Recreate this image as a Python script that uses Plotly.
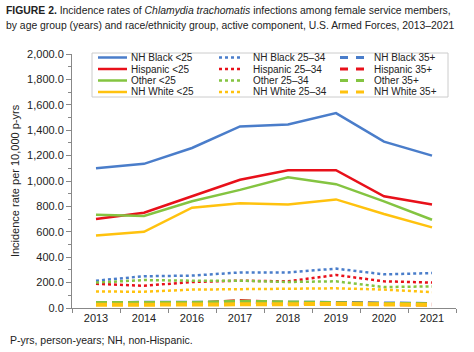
import plotly.graph_objects as go

years = ["2013", "2014", "2016", "2017", "2018", "2019", "2020", "2021"]

black_u25 = [1100, 1135, 1260, 1430, 1445, 1535, 1310, 1200]
hisp_u25 = [700, 750, 880, 1010, 1085, 1085, 880, 815]
other_u25 = [735, 725, 840, 930, 1030, 975, 840, 695]
white_u25 = [570, 600, 790, 825, 815, 855, 740, 635]

black_25_34 = [215, 250, 255, 280, 280, 310, 265, 275]
hisp_25_34 = [190, 175, 205, 215, 210, 260, 210, 200]
other_25_34 = [200, 220, 215, 215, 205, 210, 165, 170]
white_25_34 = [130, 128, 145, 150, 155, 155, 145, 125]

black_35 = [40, 42, 40, 45, 42, 40, 35, 32]
hisp_35 = [32, 35, 32, 55, 38, 35, 28, 28]
other_35 = [40, 40, 40, 50, 42, 40, 32, 30]
white_35 = [25, 28, 28, 32, 30, 32, 25, 25]

BLUE = "#4A7DCA"
RED = "#E8101A"
GREEN = "#84C441"
YELLOW = "#FFC20E"

groups = [
    ("NH Black", BLUE, black_u25, black_25_34, black_35),
    ("Hispanic", RED, hisp_u25, hisp_25_34, hisp_35),
    ("Other", GREEN, other_u25, other_25_34, other_35),
    ("NH White", YELLOW, white_u25, white_25_34, white_35),
]
ages = [("<25", "solid", 2.5), ("25–34", "dot", 2.5), ("35+", "11px,5px", 4)]

W, H = 474, 352
ML, MR, MT, MB = 72, 18, 54, 44
PW, PH = W - ML - MR, H - MT - MB


def px(x):
    return (x - ML) / PW


def py(y):
    return (H - MB - y) / PH


fig = go.Figure()
shapes = []
annotations = []

# legend box
shapes.append(dict(type="rect", xref="paper", yref="paper",
                   x0=px(92), x1=px(448), y0=py(97), y1=py(53),
                   line=dict(color="#cccccc", width=1), fillcolor="white", layer="below"))

col_line = [(98, 127), (219, 243), (340, 364)]
col_text = [129, 251, 372]

for r, (gname, color, *vals) in enumerate(groups):
    rowy = 57.5 + 11.5 * r
    for c, ((age, dash, w), v) in enumerate(zip(ages, vals)):
        name = f"{gname} {age}"
        fig.add_trace(go.Scatter(
            x=years, y=v, name=name, mode="lines", showlegend=False,
            line=dict(color=color, dash=dash, width=w),
        ))
        leg_dash = "8px,8px" if c == 2 else dash
        shapes.append(dict(type="line", xref="paper", yref="paper",
                           x0=px(col_line[c][0]), x1=px(col_line[c][1]),
                           y0=py(rowy), y1=py(rowy),
                           line=dict(color=color, dash=leg_dash, width=3 if c == 2 else w)))
        annotations.append(dict(text=name, xref="paper", yref="paper",
                                x=px(col_text[c]), y=py(rowy), xanchor="left", yanchor="middle",
                                showarrow=False, font=dict(size=10, color="#222")))

annotations += [
    dict(text="<b>FIGURE 2.</b> Incidence rates of <i>Chlamydia trachomatis</i> infections among female service members,",
         xref="paper", yref="paper", x=px(4), y=py(10), xanchor="left", yanchor="middle",
         showarrow=False, font=dict(size=10.4, color="#222")),
    dict(text="by age group (years) and race/ethnicity group, active component, U.S. Armed Forces, 2013–2021",
         xref="paper", yref="paper", x=px(4), y=py(26), xanchor="left", yanchor="middle",
         showarrow=False, font=dict(size=10.4, color="#222")),
    dict(text="P-yrs, person-years; NH, non-Hispanic.",
         xref="paper", yref="paper", x=px(8), y=py(340), xanchor="left", yanchor="middle",
         showarrow=False, font=dict(size=10.5, color="#222")),
]

fig.update_layout(
    width=W, height=H,
    margin=dict(l=ML, r=MR, t=MT, b=MB),
    paper_bgcolor="white", plot_bgcolor="white",
    font=dict(family="Liberation Sans, Arial, sans-serif", size=11, color="#222"),
    showlegend=False,
    xaxis=dict(
        type="category", range=[-0.5, 7.5],
        showline=True, linecolor="#888", linewidth=1,
        ticks="outside", tickson="boundaries", ticklen=4, tickcolor="#888",
        showgrid=False, tickfont=dict(size=11),
    ),
    yaxis=dict(
        range=[0, 2000], tickvals=list(range(0, 2001, 200)),
        tickformat=",.1f", showline=True, linecolor="#888", linewidth=1,
        ticks="outside", ticklen=5, tickcolor="#888",
        minor=dict(ticks="outside", ticklen=3, tickcolor="#888", dtick=100),
        showgrid=False, zeroline=False, tickfont=dict(size=11),
        title=dict(text="Incidence rate per 10,000 p-yrs", font=dict(size=11), standoff=5),
    ),
    shapes=shapes,
    annotations=annotations,
)

fig.write_html("out.html")
